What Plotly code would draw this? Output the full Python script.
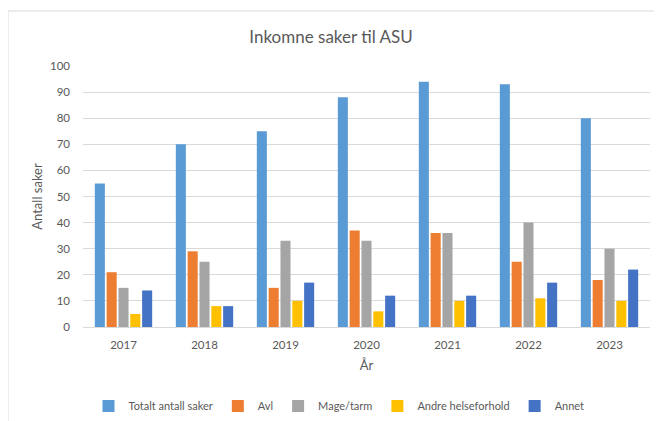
import plotly.graph_objects as go

years = ["2017", "2018", "2019", "2020", "2021", "2022", "2023"]
series_names = ["Totalt antall saker", "Avl", "Mage/tarm", "Andre helseforhold", "Annet"]
totalt = [55, 70, 75, 88, 94, 93, 80]
avl = [21, 29, 15, 37, 36, 25, 18]
mage_tarm = [15, 25, 33, 33, 36, 40, 30]
andre = [5, 8, 10, 6, 10, 11, 10]
annet = [14, 8, 17, 12, 12, 17, 22]
colors = ["#5B9BD5", "#ED7D31", "#A5A5A5", "#FFC000", "#4472C4"]

values = [totalt, avl, mage_tarm, andre, annet]

FONT = "Lato"
GREY = "#595959"
OFF = 8  # page body margin

fig = go.Figure()
for name, vals, col in zip(series_names, values, colors):
    fig.add_trace(go.Bar(x=years, y=vals, name=name, marker=dict(color=col, line=dict(width=0))))

W, H = 662 - OFF, 421 - OFF
L, R, T = 83 - OFF, 12, 66 - OFF
B = H - (327 - OFF)
pw, ph = W - L - R, H - T - B

bx = (8 - 83) / pw
by = (327 - 11) / ph

fig.update_layout(
    width=W, height=H,
    margin=dict(l=L, r=R, t=T, b=B, autoexpand=False),
    paper_bgcolor="white", plot_bgcolor="white",
    barmode="group", bargap=0.27, bargroupgap=0.15,
    font=dict(family=FONT, color=GREY, size=12),
    title=dict(text="Inkomne saker til ASU", x=(331 - OFF) / W, xanchor="center",
               y=1 - (37 - OFF) / H, yanchor="middle",
               font=dict(family=FONT, size=17, color=GREY)),
    xaxis=dict(showgrid=False, showline=True, linecolor="#d9d9d9", linewidth=1,
               ticks="", ticklabelstandoff=7, tickfont=dict(size=11.5, color=GREY),
               title=dict(text="År", font=dict(size=13, color=GREY), standoff=11)),
    yaxis=dict(range=[0, 100], dtick=10, showgrid=True, gridcolor="#d9d9d9", gridwidth=1,
               zeroline=False, showline=False, ticks="", ticklabelstandoff=12,
               tickfont=dict(size=11.5, color=GREY),
               title=dict(text="Antall saker", font=dict(size=13, color=GREY), standoff=4)),
    legend=dict(orientation="h", x=(339 - 83) / pw, xanchor="center",
                yref="container", y=1 - (406 - OFF) / H, yanchor="middle",
                font=dict(size=11, color=GREY), itemwidth=30, traceorder="normal"),
    shapes=[
        dict(type="line", xref="paper", yref="paper", x0=bx, x1=bx, y0=-0.6, y1=by,
             line=dict(color="#d9d9d9", width=1)),
        dict(type="line", xref="paper", yref="paper", x0=bx, x1=1.2, y0=by, y1=by,
             line=dict(color="#d9d9d9", width=1)),
    ],
)

fig.write_html("out.html")
